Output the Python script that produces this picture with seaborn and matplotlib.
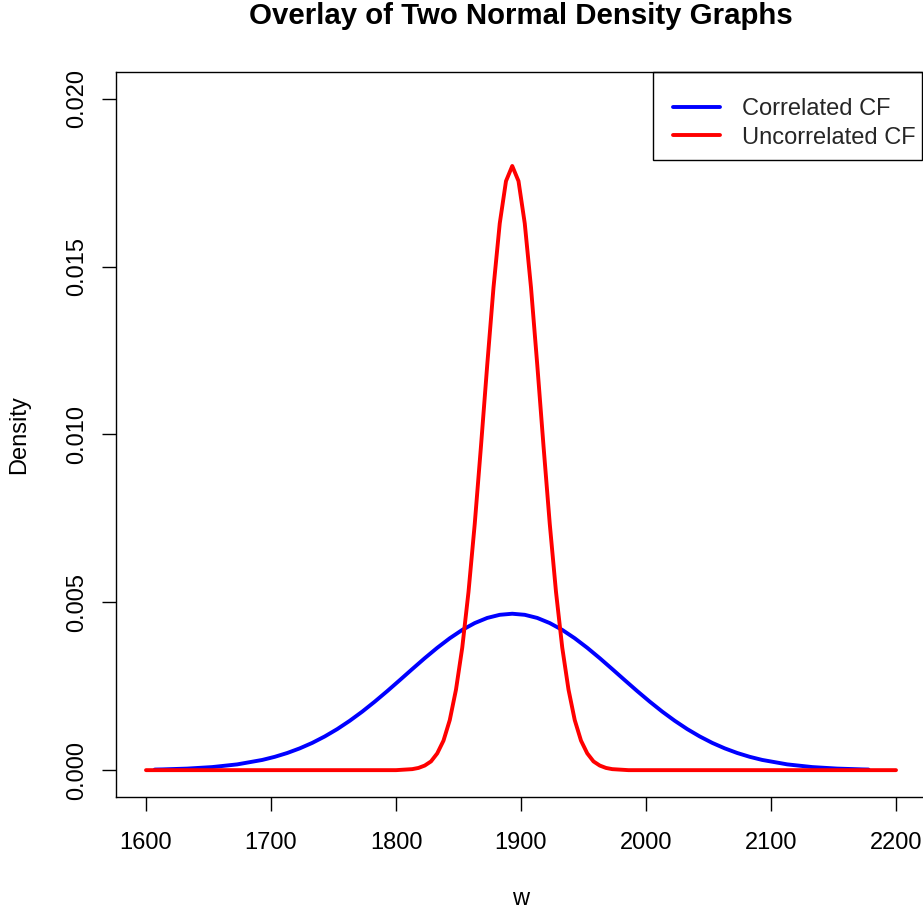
import matplotlib
matplotlib.use("Agg")
import matplotlib.pyplot as plt
import seaborn as sns
import pandas as pd
from matplotlib.patches import Rectangle

# ---- data ----
blue_x = [1607, 1613, 1633, 1653, 1673, 1693, 1703, 1713, 1723, 1733, 1743, 1753,
          1763, 1773, 1783, 1793, 1803, 1813, 1823, 1833, 1843, 1853, 1863, 1873,
          1883, 1893, 1903, 1913, 1923, 1933, 1943, 1953, 1963, 1973, 1983, 1993,
          2003, 2013, 2023, 2033, 2043, 2053, 2063, 2073, 2083, 2093, 2113, 2133,
          2153, 2173, 2178]
blue_y = [0.0000175, 0.0000221, 0.0000463, 0.0000915, 0.000172, 0.000304, 0.000397,
          0.000511, 0.000649, 0.000812, 0.001004, 0.001223, 0.001471, 0.001744,
          0.002041, 0.002355, 0.002681, 0.003011, 0.003336, 0.003645, 0.003929,
          0.004178, 0.004382, 0.004535, 0.004628, 0.004660, 0.004628, 0.004535,
          0.004382, 0.004178, 0.003929, 0.003645, 0.003336, 0.003011, 0.002681,
          0.002355, 0.002041, 0.001744, 0.001471, 0.001223, 0.001004, 0.000812,
          0.000649, 0.000511, 0.000397, 0.000304, 0.000172, 0.0000915, 0.0000463,
          0.0000221, 0.0000182]

red_x = [1600, 1800, 1813, 1818, 1823, 1828, 1833, 1838, 1843, 1848, 1853, 1858,
         1863, 1868, 1873, 1878, 1883, 1888, 1893, 1898, 1903, 1908, 1913, 1918,
         1923, 1928, 1933, 1938, 1943, 1948, 1953, 1958, 1963, 1968, 1973, 1986, 2200]
red_y = [0.0, 0.0, 0.00003, 0.000066, 0.000137, 0.00026, 0.00050, 0.00088, 0.00149,
         0.00240, 0.00365, 0.00531, 0.00734, 0.00966, 0.01208, 0.01438, 0.01629,
         0.01755, 0.01800, 0.01755, 0.01629, 0.01438, 0.01208, 0.00966, 0.00734,
         0.00531, 0.00365, 0.00240, 0.00149, 0.00088, 0.00050, 0.00026, 0.000137,
         0.000066, 0.00003, 0.0, 0.0]

series_labels = ["Correlated CF", "Uncorrelated CF"]
series_colors = ["#0000FF", "#FF0000"]
x_ticks = [1600, 1700, 1800, 1900, 2000, 2100, 2200]
y_ticks = [0.000, 0.005, 0.010, 0.015, 0.020]
title = "Overlay of Two Normal Density Graphs"

sns.set_style("white")
plt.rcParams['font.family'] = ['Liberation Sans', 'DejaVu Sans']

W, H = 923, 909
fig = plt.figure(figsize=(W / 100, H / 100), dpi=100)
ax = fig.add_axes([116 / W, 1 - 797 / H, 810 / W, 725 / H])

LW = 2.8
df_b = pd.DataFrame({"w": blue_x, "Density": blue_y})
df_r = pd.DataFrame({"w": red_x, "Density": red_y})
sns.lineplot(data=df_b, x="w", y="Density", ax=ax, color=series_colors[0],
             linewidth=LW, label=series_labels[0], sort=False, estimator=None)
sns.lineplot(data=df_r, x="w", y="Density", ax=ax, color=series_colors[1],
             linewidth=LW, label=series_labels[1], sort=False, estimator=None)

ax.set_xlim(1576, 2224)
ax.set_ylim(-0.0008, 0.0208)
ax.set_xticks(x_ticks)
ax.set_xticklabels([str(t) for t in x_ticks])
ax.set_yticks(y_ticks)
ax.set_yticklabels([f"{t:.3f}" for t in y_ticks], rotation=90, va="center")

ax.tick_params(axis="both", which="major", bottom=True, left=True, direction="out",
               length=10, width=1.0, color="black", labelsize=17, labelcolor="black")
ax.tick_params(axis="x", pad=15.5)
ax.tick_params(axis="y", pad=10)

for s in ax.spines.values():
    s.set_visible(True)
    s.set_color("black")
    s.set_linewidth(1.0)

ax.set_xlabel("w", fontsize=17, color="black")
ax.set_ylabel("Density", fontsize=17, color="black")
ax.xaxis.set_label_coords(0.5, -0.1255)
ax.yaxis.set_label_coords(-0.106, 0.5)

fig.text(521 / W, 1 - 24 / H, title, ha="center", va="baseline",
         fontsize=21.2, fontweight="bold", color="black")

fs_px = 17 * 100 / 72
leg = ax.legend(loc="upper left", bbox_to_anchor=(653 / W, 1 - 78 / H),
                bbox_transform=fig.transFigure, frameon=False, fontsize=17,
                borderpad=20 / fs_px, handlelength=47 / fs_px,
                handletextpad=22 / fs_px, labelspacing=0.28, borderaxespad=0)
for line in leg.get_lines():
    line.set_linewidth(LW)
fig.add_artist(Rectangle((653 / W, 1 - 160 / H), 269 / W, 88 / H,
                         transform=fig.transFigure, fill=False,
                         edgecolor="black", linewidth=1.0))

fig.savefig("out.png", dpi=100)
